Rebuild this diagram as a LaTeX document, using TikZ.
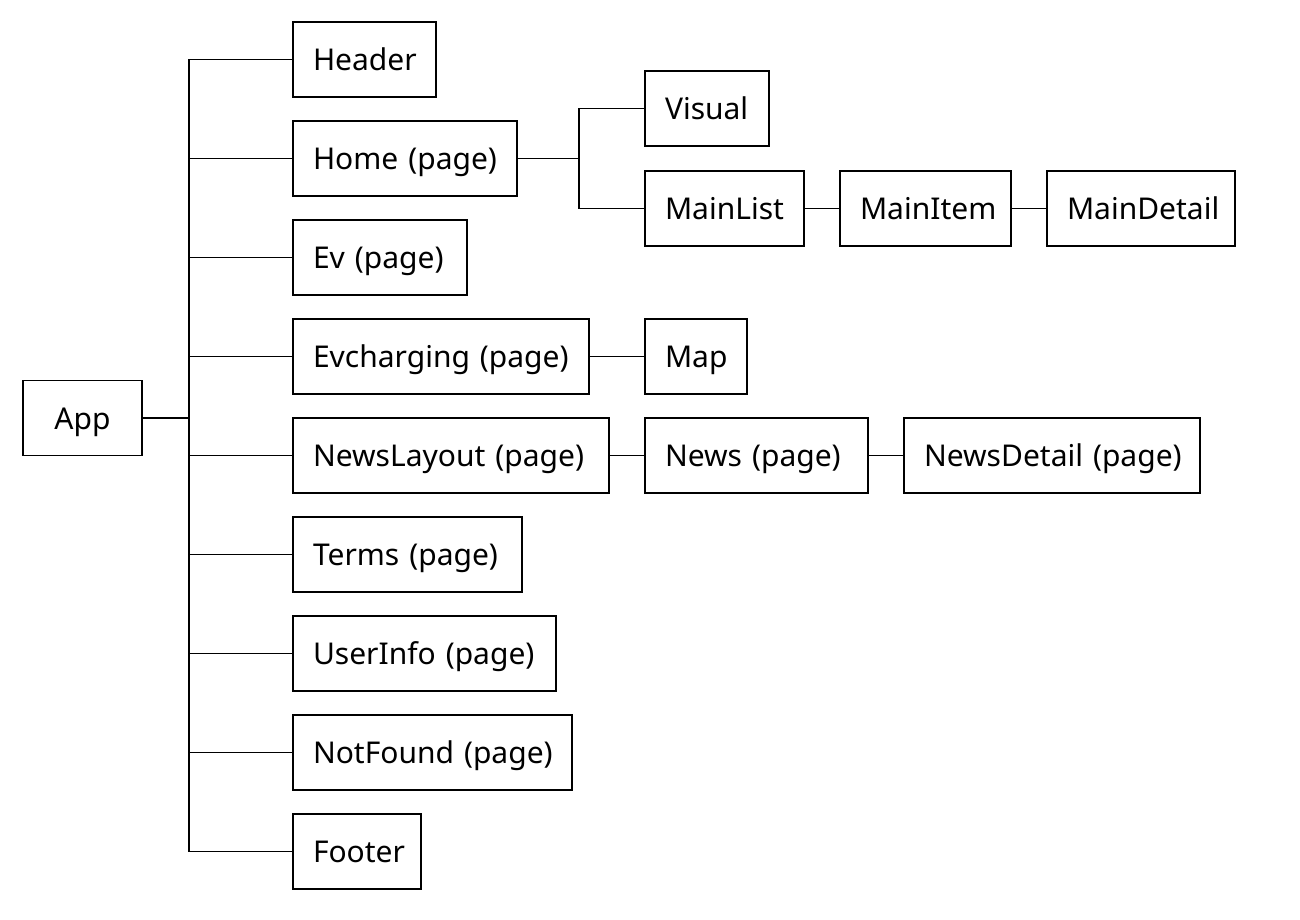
\documentclass[tikz,border=0pt]{standalone}
\usepackage{fontspec}
\setmainfont{Noto Sans}
\usetikzlibrary{positioning}

\begin{document}
\begin{tikzpicture}[
    x=1pt, y=-1pt,
    line width=1.2pt,
    node distance=24pt and 36pt,
    comp/.style={draw, rectangle, minimum height=75pt, inner xsep=20pt,
                 inner ysep=0pt, outer sep=0pt, align=left,
                 text height=29pt, text depth=7pt,
                 font=\fontsize{30}{36}\selectfont},
  ]
  \useasboundingbox (0,0) rectangle (1300,920);

  % ---- root ----
  \node[comp, text width=79pt, align=center] (app) at (82.5,418) {App};

  % ---- first level (pages) ----
  \node[comp, text width=103pt, anchor=west] (header) at (293,59.5) {Header};
  \node[comp, text width=184pt, below=24pt of header.south west, anchor=north west] (home) {Home~(page)};
  \node[comp, text width=134pt, below=24pt of home.south west, anchor=north west] (ev) {Ev~(page)};
  \node[comp, text width=256pt, below=24pt of ev.south west, anchor=north west] (evcharging) {Evcharging~(page)};
  \node[comp, text width=276pt, below=24pt of evcharging.south west, anchor=north west] (newslayout) {NewsLayout~(page)};
  \node[comp, text width=189pt, below=24pt of newslayout.south west, anchor=north west] (terms) {Terms~(page)};
  \node[comp, text width=223pt, below=24pt of terms.south west, anchor=north west] (userinfo) {UserInfo~(page)};
  \node[comp, text width=239pt, below=24pt of userinfo.south west, anchor=north west] (notfound) {NotFound~(page)};
  \node[comp, text width=88pt, below=24pt of notfound.south west, anchor=north west] (footer) {Footer};

  % ---- children ----
  \node[comp, text width=84pt, anchor=west] (visual) at (645,108.5) {Visual};
  \node[comp, text width=119pt, below=25pt of visual.south west, anchor=north west] (mainlist) {MainList};
  \node[comp, text width=131pt, right=of mainlist] (mainitem) {MainItem};
  \node[comp, text width=148pt, right=of mainitem] (maindetail) {MainDetail};
  \node[comp, text width=62pt, right=56pt of evcharging] (map) {Map};
  \node[comp, text width=183pt, right=of newslayout] (news) {News~(page)};
  \node[comp, text width=256pt, right=of news] (newsdetail) {NewsDetail~(page)};

  % ---- connectors ----
  \coordinate (trunk) at (189,0);
  \coordinate (split) at (579,0);
  \draw (app.east) -- (app.east -| trunk);
  \draw (header.west -| trunk) -- (footer.west -| trunk);
  \foreach \n in {header, home, ev, evcharging, newslayout, terms, userinfo, notfound, footer}
    \draw (\n.west -| trunk) -- (\n.west);
  \draw (home.east) -- (home.east -| split);
  \draw (visual.west) -- (visual.west -| split) -- (mainlist.west -| split) -- (mainlist.west);
  \foreach \a/\b in {mainlist/mainitem, mainitem/maindetail, evcharging/map, newslayout/news, news/newsdetail}
    \draw (\a) -- (\b);
\end{tikzpicture}
\end{document}
